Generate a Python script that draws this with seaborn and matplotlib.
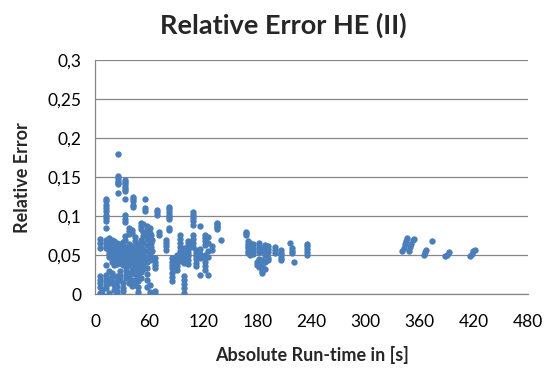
import matplotlib
matplotlib.use("Agg")
import matplotlib.pyplot as plt
import numpy as np
import pandas as pd
import seaborn as sns
from matplotlib.ticker import FuncFormatter, MultipleLocator

# run-time [s] of each streak and the relative errors measured there
early_streaks = [
    (5, [0.071, 0.066, 0.059, 0.023, 0.019, 0.015, 0.010, 0.002]),
    (7, [0.006, 0.001]),
    (11.5, [0.122, 0.119, 0.115, 0.111, 0.107, 0.102, 0.098, 0.094, 0.085]),
    (12, [0.070, 0.066, 0.062, 0.059, 0.038, 0.025, 0.021, 0.017, 0.012, 0.008]),
    (15, [0.072, 0.068, 0.064, 0.060, 0.056, 0.052, 0.048, 0.030, 0.020, 0.014, 0.002]),
    (18, [0.070, 0.065, 0.061, 0.057, 0.053, 0.049, 0.045, 0.041, 0.027, 0.022, 0.016]),
    (21, [0.068, 0.063, 0.058, 0.054, 0.050, 0.046, 0.042, 0.038, 0.012, 0.006]),
    (24, [0.066, 0.061, 0.056, 0.052, 0.047, 0.043, 0.039, 0.023, 0.017, 0.011, 0.005, 0.001]),
    (25.5, [0.180, 0.152, 0.149, 0.145, 0.143, 0.141, 0.130]),
    (27, [0.064, 0.060, 0.055, 0.050, 0.044, 0.040, 0.030, 0.024, 0.018]),
    (30, [0.067, 0.062, 0.057, 0.052, 0.047, 0.042, 0.037, 0.015, 0.008, 0.004]),
    (33, [0.147, 0.144, 0.141, 0.138, 0.135, 0.132, 0.122, 0.101, 0.097, 0.093, 0.075, 0.069]),
    (34, [0.060, 0.055, 0.050, 0.046, 0.041, 0.036, 0.031, 0.026, 0.021]),
    (37, [0.085, 0.081, 0.077, 0.065, 0.059, 0.053, 0.048, 0.043, 0.038, 0.028, 0.022, 0.014]),
    (40, [0.083, 0.079, 0.062, 0.056, 0.051, 0.045, 0.040, 0.034, 0.027, 0.019, 0.011]),
    (41.5, [0.125, 0.122, 0.119, 0.115, 0.112]),
    (44, [0.073, 0.068, 0.061, 0.055, 0.049, 0.044, 0.039, 0.032, 0.026, 0.018, 0.012]),
    (47, [0.064, 0.058, 0.052, 0.047, 0.042, 0.036, 0.030, 0.024, 0.017, 0.010, 0.003]),
    (50, [0.092, 0.088, 0.084, 0.070, 0.060, 0.054, 0.049, 0.043, 0.037, 0.029, 0.021]),
    (53, [0.090, 0.080, 0.075, 0.066, 0.058, 0.051, 0.045, 0.039, 0.033]),
    (55, [0.122, 0.110, 0.107]),
    (57, [0.088, 0.082, 0.077, 0.071, 0.063, 0.056, 0.048, 0.041, 0.034, 0.026, 0.018, 0.009]),
    (60, [0.085, 0.079, 0.073, 0.067, 0.060, 0.050, 0.044, 0.012, 0.003]),
    (62, [0.076, 0.071, 0.066, 0.061]),
    (63, [0.070, 0.055, 0.046, 0.002]),
    (66, [0.047, 0.042, 0.038, 0.034, 0.005, 0.001]),
    (68.6, [0.108, 0.105, 0.101]),
    (70, [0.080, 0.076]),
    (78, [0.070, 0.066, 0.062, 0.057]),
    (82, [0.112, 0.109, 0.106, 0.102, 0.099, 0.096, 0.085, 0.082]),
    (85, [0.046, 0.042, 0.038, 0.034, 0.027, 0.022, 0.017]),
    (90, [0.050, 0.046, 0.041, 0.036, 0.031]),
    (94, [0.076, 0.071, 0.066, 0.061, 0.056, 0.051, 0.047, 0.043]),
    (98, [0.060, 0.055, 0.050, 0.045, 0.040, 0.023, 0.018, 0.013, 0.008, 0.002]),
    (103, [0.068, 0.064, 0.060, 0.057, 0.053, 0.049, 0.044, 0.039]),
    (108.5, [0.106, 0.102, 0.098, 0.094, 0.089, 0.076, 0.071, 0.066, 0.061]),
    (111, [0.057, 0.053, 0.049, 0.045, 0.040, 0.036]),
    (115.9, [0.088, 0.058, 0.052, 0.047, 0.025]),
    (121, [0.076, 0.072, 0.068, 0.063, 0.051, 0.046, 0.041, 0.036, 0.031]),
    (125, [0.074, 0.066, 0.055, 0.048, 0.025]),
    (129, [0.062, 0.057]),
    (134.8, [0.092, 0.090, 0.088, 0.086, 0.084]),
    (139.2, [0.070]),
]

mid_streaks = [
    (166.6, [0.080, 0.078, 0.076]),
    (169, [0.068, 0.065, 0.062, 0.059, 0.056, 0.053]),
    (172, [0.066, 0.062, 0.058, 0.054, 0.051]),
    (175, [0.064, 0.060, 0.056, 0.052]),
    (178.8, [0.041, 0.038]),
    (182, [0.066, 0.062, 0.058, 0.054, 0.045, 0.040, 0.035]),
    (185, [0.060, 0.056, 0.044, 0.036, 0.030, 0.027]),
    (188, [0.063, 0.059, 0.055, 0.051, 0.042, 0.033]),
    (192, [0.062, 0.058, 0.054, 0.047, 0.044]),
    (199, [0.061, 0.057, 0.053]),
    (206, [0.057, 0.053, 0.050, 0.047, 0.044]),
    (215.7, [0.066]),
    (218, [0.059, 0.056, 0.053]),
    (220, [0.041]),
    (235, [0.065, 0.062, 0.058, 0.054, 0.050]),
]

late_time = [340.7, 342, 343.5, 345, 346, 347.5, 349, 350.5, 352, 353,
             364.6, 366, 367, 373.6, 388, 390, 392, 416, 418, 419.5, 421]
late_error = [0.056, 0.060, 0.064, 0.068, 0.072, 0.056, 0.061, 0.065, 0.069, 0.071,
              0.050, 0.054, 0.057, 0.068, 0.049, 0.051, 0.054, 0.049, 0.052, 0.055, 0.057]

run_time = []
rel_error = []
for t, errs in early_streaks + mid_streaks:
    run_time += [t] * len(errs)
    rel_error += errs
run_time += late_time
rel_error += late_error

df = pd.DataFrame({"time": run_time, "err": rel_error})

sns.set_style("white")
plt.rcParams["font.family"] = ["Lato", "DejaVu Sans"]

grey = "#868686"
fig = plt.figure(figsize=(5.52, 3.76), dpi=100)
ax = fig.add_axes([0.173, 0.217, 0.7835, 0.6235])

sns.scatterplot(data=df, x="time", y="err", ax=ax, color="#4A7EBB",
                s=21, linewidth=0, zorder=3)

ax.set_xlim(0, 480)
ax.set_ylim(0, 0.3)
ax.xaxis.set_major_locator(MultipleLocator(60))
ax.yaxis.set_major_locator(MultipleLocator(0.05))
ax.yaxis.set_major_formatter(FuncFormatter(lambda v, p: f"{v:.2f}".rstrip("0").rstrip(".").replace(".", ",") if v else "0"))

ax.grid(axis="y", color=grey, linewidth=0.9)
ax.set_axisbelow(True)
for side in ["top", "right"]:
    ax.spines[side].set_visible(False)
for side in ["left", "bottom"]:
    ax.spines[side].set_color(grey)
    ax.spines[side].set_linewidth(0.9)
ax.tick_params(axis="both", direction="out", length=5, width=0.9, color=grey,
               labelsize=12.5, labelcolor="black", pad=5)
ax.tick_params(axis="x", pad=9)

ax.set_xlabel("")
ax.set_ylabel("")
fig.text(0.566, 0.055, "Absolute Run-time in [s]", ha="center", va="center",
         fontsize=13, fontweight="bold")
fig.text(0.04, 0.528, "Relative Error", ha="center", va="center", rotation=90,
         fontsize=13, fontweight="bold")
fig.text(0.514, 0.933, "Relative Error HE (II)", ha="center", va="center",
         fontsize=19.5, fontweight="bold")

fig.savefig("out.png", dpi=100)
